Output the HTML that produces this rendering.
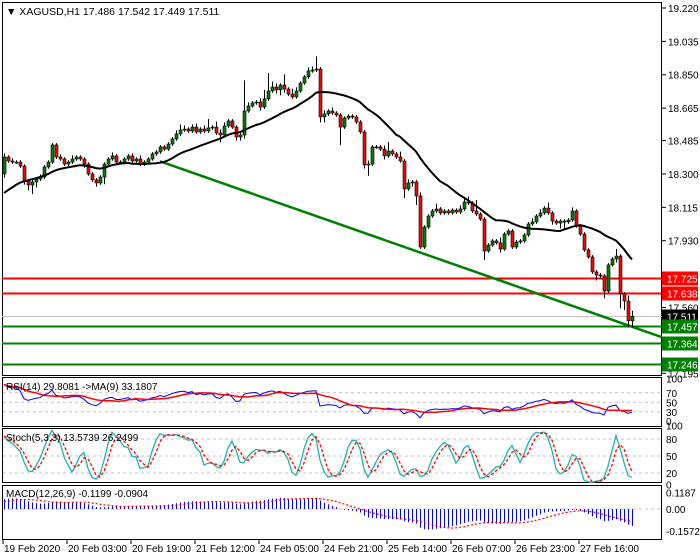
<!DOCTYPE html>
<html><head><meta charset="utf-8"><style>
html,body{margin:0;padding:0;background:#fff;}
svg{display:block;font-family:"Liberation Sans",sans-serif;}
</style></head><body>
<svg id="chart" width="700" height="560" viewBox="0 0 700 560" xmlns="http://www.w3.org/2000/svg">
<rect x="0" y="0" width="700" height="560" fill="#fff"/>
<g id="main"></g>
<g id="rsi"></g>
<g id="stoch"></g>
<g id="macd"></g>
<g id="xaxis"></g>
</svg>
<script>
const priorCloses=[18.05,18.06,18.08,18.07,18.10,18.12,18.11,18.14,18.16,18.15,18.18,18.20,18.22,18.21,18.24,18.26,18.28,18.30,18.32,18.30];
const closes=[18.394,18.372,18.366,18.366,18.344,18.261,18.239,18.256,18.272,18.283,
18.339,18.366,18.461,18.394,18.383,18.355,18.366,18.383,18.394,18.383,
18.355,18.300,18.267,18.250,18.283,18.355,18.383,18.400,18.366,18.366,
18.383,18.400,18.372,18.383,18.355,18.366,18.383,18.411,18.422,18.450,
18.438,18.466,18.494,18.522,18.544,18.549,18.538,18.560,18.533,18.549,
18.538,18.555,18.560,18.527,18.516,18.566,18.594,18.560,18.505,18.516,
18.649,18.677,18.694,18.699,18.671,18.716,18.760,18.782,18.766,18.793,
18.771,18.743,18.727,18.760,18.804,18.838,18.871,18.876,18.882,18.616,
18.633,18.649,18.638,18.627,18.560,18.610,18.621,18.616,18.588,18.533,
18.350,18.355,18.450,18.450,18.438,18.400,18.427,18.411,18.394,18.372,
18.217,18.250,18.256,18.178,17.895,18.006,18.067,18.095,18.106,18.084,
18.095,18.084,18.100,18.089,18.106,18.145,18.139,18.095,18.078,18.050,
17.873,17.906,17.929,17.918,17.884,17.967,17.984,17.895,17.923,17.929,
17.962,18.023,18.034,18.067,18.084,18.111,18.084,18.039,18.028,18.039,
18.034,18.045,18.095,18.012,17.967,17.879,17.840,17.757,17.740,17.735,
17.651,17.796,17.829,17.845,17.635,17.596,17.486,17.511];
const hiWick=[.02,.01,.015,.01,.01,.01,.01,.01,.01,.015,
.01,.01,.01,.01,.015,.01,.01,.02,.01,.01,
.01,.01,.01,.01,.01,.01,.01,.02,.01,.01,
.01,.01,.015,.01,.02,.01,.01,.01,.01,.01,
.01,.01,.01,.02,.03,.02,.01,.015,.02,.01,
.02,.05,.01,.03,.02,.02,.01,.01,.01,.01,
.17,.02,.01,.01,.02,.05,.10,.03,.02,.01,
.06,.01,.03,.02,.01,.01,.02,.02,.07,.01,
.02,.01,.02,.01,.01,.01,.01,.01,.01,.01,
.01,.02,.01,.01,.01,.02,.05,.01,.01,.03,
.01,.02,.01,.01,.02,.01,.01,.01,.03,.01,
.01,.01,.01,.01,.02,.02,.03,.01,.06,.01,
.01,.01,.01,.01,.03,.01,.01,.01,.01,.01,
.01,.01,.02,.01,.02,.01,.03,.01,.01,.01,
.01,.01,.02,.01,.01,.01,.01,.01,.01,.01,
.01,.01,.01,.04,.01,.01,.03,.031];
const loWick=[.02,.01,.01,.01,.01,.02,.03,.05,.03,.01,
.01,.01,.01,.01,.01,.01,.01,.01,.01,.01,
.02,.01,.01,.02,.01,.04,.01,.01,.01,.01,
.01,.01,.01,.01,.01,.01,.01,.01,.01,.01,
.01,.01,.01,.01,.01,.01,.01,.01,.01,.01,
.01,.01,.01,.01,.04,.01,.01,.01,.02,.02,
.02,.01,.01,.01,.02,.01,.01,.01,.02,.03,
.02,.01,.01,.01,.01,.01,.01,.01,.01,.03,
.03,.01,.01,.01,.10,.01,.01,.01,.01,.01,
.02,.06,.01,.01,.01,.02,.01,.01,.01,.01,
.05,.01,.02,.05,.01,.01,.01,.01,.01,.01,
.01,.01,.01,.01,.01,.01,.01,.01,.01,.01,
.05,.01,.01,.01,.02,.01,.01,.01,.01,.01,
.01,.01,.01,.01,.01,.01,.01,.02,.01,.03,
.04,.01,.01,.01,.01,.01,.01,.01,.03,.01,
.04,.01,.01,.02,.08,.05,.037,.037];
const firstOpen=18.300;
const priceTicks=["19.220","19.035","18.850","18.665","18.485","18.300","18.115","17.930","17.560","17.195"];
const resistLevels=["17.725","17.638"];
const supportLevels=["17.457","17.364","17.246"];
const currentPrice="17.511";
const trendStart=[39,18.370];
const trendEnd=[164.5,17.395];
const dateLabels=["19 Feb 2020","20 Feb 03:00","20 Feb 19:00","21 Feb 12:00","24 Feb 05:00","24 Feb 21:00","25 Feb 14:00","26 Feb 07:00","26 Feb 23:00","27 Feb 16:00"];
const dateBars=[0,16,32,48,64,80,96,112,128,144];
const rsiTicks=[100,70,50,30,0];
const stochTicks=[100,80,50,20,0];
const macdTicks=["0.1187","0.00","-0.1572"];

const NS="http://www.w3.org/2000/svg";
function mk(parent,tag,attrs,name){const e=document.createElementNS(NS,tag);for(const k in attrs)e.setAttribute(k,attrs[k]);


parent.appendChild(e);return e;}
const X=i=>4+i*4;
const Y=p=>8+(19.220-p)*180.4;
const main=document.getElementById('main');
const N=closes.length;
const opens=closes.map((c,i)=>i===0?firstOpen:closes[i-1]);
const highs=closes.map((c,i)=>Math.max(opens[i],c)+hiWick[i]);
const lows=closes.map((c,i)=>Math.min(opens[i],c)-loWick[i]);

// frame
mk(main,'rect',{x:2.5,y:2.5,width:659,height:373,fill:'none',stroke:'#000'},'price-frame');
// price axis
priceTicks.forEach(t=>{const y=Y(+t);
mk(main,'line',{x1:662,x2:666,y1:y,y2:y,stroke:'#000'},'price-tick');
const tx=mk(main,'text',{x:668,y:y+4,'font-size':10,fill:'#000'},'price-label');tx.textContent=t;});
// levels
function level(v,color,name){const y=Math.round(Y(+v))+0.5;
mk(main,'line',{x1:2,x2:662,y1:y,y2:y,stroke:color,'stroke-width':color==='#c0c0c0'?1:2},name+'-line');
mk(main,'rect',{x:662,y:y-7,width:36,height:14,fill:color==='#c0c0c0'?'#000':color},name+'-box');
const tx=mk(main,'text',{x:667,y:y+4,'font-size':10,fill:'#fff'},name+'-label');tx.textContent=v;}
level(currentPrice,'#c0c0c0','current-price');
resistLevels.forEach(v=>level(v,'#ff0000','resistance'));
supportLevels.forEach(v=>level(v,'#008000','support'));
// trend line
mk(main,'line',{x1:X(trendStart[0]),y1:Y(trendStart[1]),x2:X(trendEnd[0]),y2:Y(trendEnd[1]),stroke:'#008000','stroke-width':2.5},'trend-line');
// candles
for(let i=0;i<N;i++){const x=X(i);const up=closes[i]>=opens[i];
mk(main,'line',{x1:x+0.5,x2:x+0.5,y1:Y(highs[i]),y2:Y(lows[i]),stroke:'#000'},'candle-wick');
const t=Y(Math.max(opens[i],closes[i])),b=Y(Math.min(opens[i],closes[i]));
mk(main,'rect',{x:x-1,y:t,width:3,height:Math.max(1,b-t),fill:up?'#008000':'#ff0000',stroke:'#000','stroke-width':0.6},'candle');}
// moving average
const all=priorCloses.concat(closes);const P=20;let pts=[];
for(let i=0;i<N;i++){const j=i+priorCloses.length;let s=0;for(let k=j-P+1;k<=j;k++)s+=all[k];pts.push(X(i)+','+Y(s/P).toFixed(1));}
mk(main,'polyline',{points:pts.join(' '),fill:'none',stroke:'#000','stroke-width':2},'moving-average');
// header
const hd=mk(main,'text',{x:6,y:15,'font-size':10.5,fill:'#000'},'symbol-header');hd.textContent='▼ XAGUSD,H1  17.486 17.542 17.449 17.511';

// RSI
const rsiG=document.getElementById('rsi');
const rY=v=>426-v*0.475;
mk(rsiG,'rect',{x:2.5,y:377.5,width:659,height:49,fill:'none',stroke:'#000'},'rsi-frame');
[70,50,30].forEach(v=>mk(rsiG,'line',{x1:3,x2:661,y1:rY(v),y2:rY(v),stroke:'#c0c0c0','stroke-dasharray':'3,3'},'rsi-level'));
rsiTicks.forEach(v=>{const t=mk(rsiG,'text',{x:666,y:Math.min(rY(v)+4,425),'font-size':10},'rsi-tick');t.textContent=v;});
const rsiVals=[];let ag=0,al=0;
for(let j=1;j<all.length;j++){const d=all[j]-all[j-1];const g=Math.max(d,0),l=Math.max(-d,0);
if(j<=14){ag+=g/14;al+=l/14;}else{ag=(ag*13+g)/14;al=(al*13+l)/14;}
if(j>=14&&j>=priorCloses.length){rsiVals[j-priorCloses.length]=al===0?100:100-100/(1+ag/al);}}
const rsiMA=rsiVals.map((v,i)=>{let s=0,c=0;for(let k=Math.max(0,i-8);k<=i;k++){if(rsiVals[k]!==undefined){s+=rsiVals[k];c++;}}return s/c;});
mk(rsiG,'polyline',{points:rsiVals.map((v,i)=>X(i)+','+rY(v).toFixed(1)).join(' '),fill:'none',stroke:'#0000ff'},'rsi-line');
mk(rsiG,'polyline',{points:rsiMA.map((v,i)=>X(i)+','+rY(v).toFixed(1)).join(' '),fill:'none',stroke:'#ff0000','stroke-width':1.5},'rsi-ma-line');
const rl=mk(rsiG,'text',{x:6,y:390,'font-size':10},'rsi-label');rl.textContent='RSI(14) 29.8081  ->MA(9) 33.1807';

// Stoch
const stG=document.getElementById('stoch');
const sY=v=>484.3-v*0.567;
mk(stG,'rect',{x:2.5,y:428.5,width:659,height:54,fill:'none',stroke:'#000'},'stoch-frame');
[80,50,20].forEach(v=>mk(stG,'line',{x1:3,x2:661,y1:sY(v),y2:sY(v),stroke:'#c0c0c0','stroke-dasharray':'3,3'},'stoch-level'));
stochTicks.forEach(v=>{const t=mk(stG,'text',{x:666,y:sY(v)+4+(v===100?-2:0),'font-size':10},'stoch-tick');t.textContent=v;});
const num=[],den=[];
for(let i=0;i<N;i++){let hh=-1e9,ll=1e9;for(let k=Math.max(0,i-4);k<=i;k++){hh=Math.max(hh,highs[k]);ll=Math.min(ll,lows[k]);}num.push(closes[i]-ll);den.push(hh-ll);}
const K=num.map((v,i)=>{let a=0,b=0;for(let k=Math.max(0,i-2);k<=i;k++){a+=num[k];b+=den[k];}return b?100*a/b:50;});
const D=K.map((v,i)=>{let s=0,c=0;for(let k=Math.max(0,i-2);k<=i;k++){s+=K[k];c++;}return s/c;});
mk(stG,'polyline',{points:K.map((v,i)=>X(i)+','+sY(v).toFixed(1)).join(' '),fill:'none',stroke:'#20b2aa','stroke-width':1.3},'stoch-main-line');
mk(stG,'polyline',{points:D.map((v,i)=>X(i)+','+sY(v).toFixed(1)).join(' '),fill:'none',stroke:'#ff0000','stroke-dasharray':'3,2','stroke-width':1.3},'stoch-signal-line');
const sl=mk(stG,'text',{x:6,y:441,'font-size':10},'stoch-label');sl.textContent='Stoch(5,3,3) 13.5739 26.2499';

// MACD
const mG=document.getElementById('macd');
const mY=v=>509-v*141;
mk(mG,'rect',{x:2.5,y:485.5,width:659,height:54,fill:'none',stroke:'#000'},'macd-frame');
mk(mG,'line',{x1:3,x2:661,y1:mY(0),y2:mY(0),stroke:'#c0c0c0','stroke-dasharray':'3,3'},'macd-zero');
macdTicks.forEach(t=>{const tx=mk(mG,'text',{x:666,y:mY(+t)+4,'font-size':10},'macd-tick');tx.textContent=t;});
function ema(arr,n){const a=2/(n+1);const o=[];arr.forEach((v,i)=>o.push(i?o[i-1]+a*(v-o[i-1]):v));return o;}
const e12=ema(all,12),e26=ema(all,26);const macdAll=e12.map((v,i)=>v-e26[i]);
const macd=macdAll.slice(priorCloses.length);
const sigAll=[];macdAll.forEach((v,i)=>{let s=0,c=0;for(let k=Math.max(0,i-8);k<=i;k++){s+=macdAll[k];c++;}sigAll.push(s/c);});
const sig=sigAll.slice(priorCloses.length);
macd.forEach((v,i)=>mk(mG,'line',{x1:X(i)+0.5,x2:X(i)+0.5,y1:mY(0),y2:mY(v),stroke:'#0000ff'},'macd-bar'));
mk(mG,'polyline',{points:sig.map((v,i)=>X(i)+','+mY(v).toFixed(1)).join(' '),fill:'none',stroke:'#ff0000','stroke-dasharray':'2,2','stroke-width':1.2},'macd-signal-line');
const ml=mk(mG,'text',{x:6,y:497,'font-size':10},'macd-label');ml.textContent='MACD(12,26,9) -0.1199 -0.0904';

// time axis
const xa=document.getElementById('xaxis');
dateLabels.forEach((d,j)=>{const x=X(dateBars[j])-1;
mk(xa,'line',{x1:x,x2:x,y1:540,y2:544,stroke:'#000'},'time-tick');
const t=mk(xa,'text',{x:x+1,y:552,'font-size':10},'time-label');t.textContent=d;});
</script>
</body></html>
